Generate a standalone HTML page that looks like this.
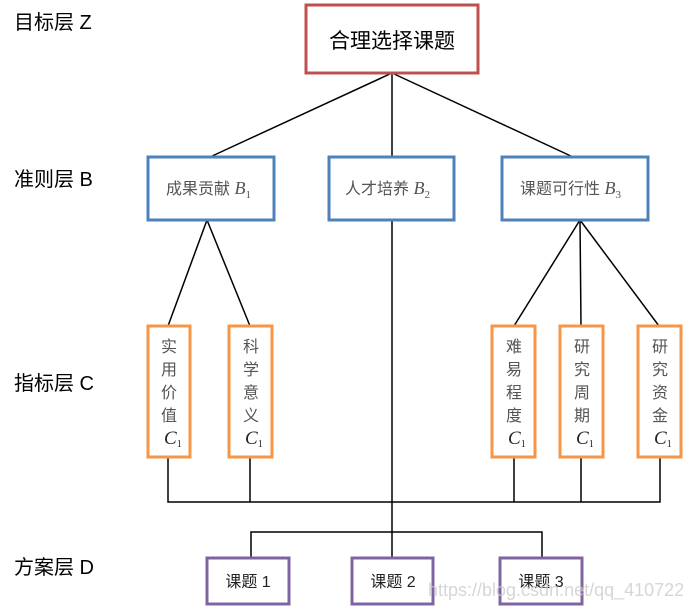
<!DOCTYPE html>
<html><head><meta charset="utf-8"><style>
html,body{margin:0;padding:0;background:#fff;}
svg{display:block;}
</style></head><body>
<svg width="683" height="609" viewBox="0 0 683 609" xmlns="http://www.w3.org/2000/svg" font-family="'Liberation Sans','Noto Sans CJK SC',sans-serif">
<g stroke="#000" stroke-width="1.5" fill="none">
<line x1="392" y1="73" x2="210" y2="157"/>
<line x1="392" y1="73" x2="392" y2="157"/>
<line x1="392" y1="73" x2="573" y2="157"/>
<line x1="207" y1="220" x2="168" y2="326"/>
<line x1="207" y1="220" x2="250" y2="326"/>
<line x1="580" y1="220" x2="514" y2="326"/>
<line x1="580" y1="220" x2="581" y2="326"/>
<line x1="580" y1="220" x2="659" y2="326"/>
<line x1="392" y1="220" x2="392" y2="558"/>
<polyline points="168,457 168,502 660,502 660,457"/>
<line x1="250" y1="457" x2="250" y2="502"/>
<line x1="514" y1="457" x2="514" y2="502"/>
<line x1="581" y1="457" x2="581" y2="502"/>
<polyline points="251,558 251,532 542,532 542,558"/>
</g>
<rect x="306" y="5" width="172" height="68" fill="#fff" stroke="#c0504d" stroke-width="3"/>
<text x="392" y="48" font-size="21" text-anchor="middle">合理选择课题</text>
<g fill="#fff" stroke="#4f81bd" stroke-width="3">
<rect x="148" y="157" width="126" height="63"/>
<rect x="329" y="157" width="125" height="63"/>
<rect x="502" y="157" width="146" height="63"/>
</g>
<g font-size="16" fill="#555">
<text x="166" y="194">成果贡献<tspan font-family="'Liberation Serif',serif" font-style="italic" font-size="18"> B</tspan><tspan font-family="'Liberation Serif',serif" font-size="11" dy="4">1</tspan></text>
<text x="345" y="194">人才培养<tspan font-family="'Liberation Serif',serif" font-style="italic" font-size="18"> B</tspan><tspan font-family="'Liberation Serif',serif" font-size="11" dy="4">2</tspan></text>
<text x="520" y="194">课题可行性<tspan font-family="'Liberation Serif',serif" font-style="italic" font-size="18"> B</tspan><tspan font-family="'Liberation Serif',serif" font-size="11" dy="4">3</tspan></text>
</g>
<g fill="#fff" stroke="#f79646" stroke-width="3">
<rect x="148" y="326" width="42" height="131"/>
<rect x="229" y="326" width="43" height="131"/>
<rect x="492" y="326" width="43" height="131"/>
<rect x="560" y="326" width="43" height="131"/>
<rect x="638" y="326" width="43" height="131"/>
</g>
<g font-size="16" fill="#555" text-anchor="middle">
<text x="169" y="352">实</text><text x="169" y="375">用</text><text x="169" y="398">价</text><text x="169" y="421">值</text>
<text x="251" y="352">科</text><text x="251" y="375">学</text><text x="251" y="398">意</text><text x="251" y="421">义</text>
<text x="514" y="352">难</text><text x="514" y="375">易</text><text x="514" y="398">程</text><text x="514" y="421">度</text>
<text x="582" y="352">研</text><text x="582" y="375">究</text><text x="582" y="398">周</text><text x="582" y="421">期</text>
<text x="660" y="352">研</text><text x="660" y="375">究</text><text x="660" y="398">资</text><text x="660" y="421">金</text>
</g>
<g font-family="'Liberation Serif',serif" fill="#222">
<text x="164" y="444" font-size="19" font-style="italic">C<tspan font-size="10" font-style="normal" dy="3">1</tspan></text>
<text x="245" y="444" font-size="19" font-style="italic">C<tspan font-size="10" font-style="normal" dy="3">1</tspan></text>
<text x="508" y="444" font-size="19" font-style="italic">C<tspan font-size="10" font-style="normal" dy="3">1</tspan></text>
<text x="576" y="444" font-size="19" font-style="italic">C<tspan font-size="10" font-style="normal" dy="3">1</tspan></text>
<text x="654" y="444" font-size="19" font-style="italic">C<tspan font-size="10" font-style="normal" dy="3">1</tspan></text>
</g>
<g fill="#fff" stroke="#8064a2" stroke-width="3">
<rect x="207" y="558" width="82" height="46"/>
<rect x="352" y="558" width="81" height="46"/>
<rect x="500" y="558" width="82" height="46"/>
</g>
<g font-size="16" fill="#222" text-anchor="middle">
<text x="248" y="587">课题 1</text>
<text x="393" y="587">课题 2</text>
<text x="541" y="587">课题 3</text>
</g>
<text x="428" y="596" font-size="18" fill="#ccc" fill-opacity="0.8">https://blog.csdn.net/qq_41072222</text>
<g font-size="20" fill="#000">
<text x="14" y="29">目标层 Z</text>
<text x="14" y="186">准则层 B</text>
<text x="14" y="390">指标层 C</text>
<text x="14" y="574">方案层 D</text>
</g>
</svg>
</body></html>
